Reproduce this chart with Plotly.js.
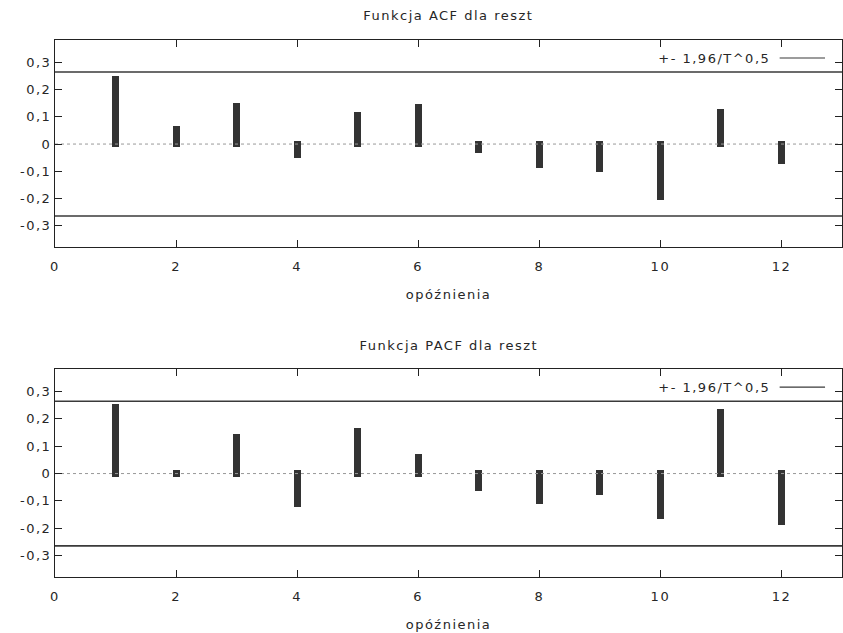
<!DOCTYPE html>
<html>
<head>
<meta charset="utf-8">
<script src="https://cdn.plot.ly/plotly-3.0.1.min.js"></script>
<style>
  html, body { margin: 0; padding: 0; background: #fff; }
  #chart { width: 843px; height: 633px; }
  /* wide, airy label lettering */
  #chart text { letter-spacing: 1.5px; }
</style>
</head>
<body>
<div id="chart"></div>
<script>
// Residual correlogram: ACF and PACF by lag
const lags = [1, 2, 3, 4, 5, 6, 7, 8, 9, 10, 11, 12];
const acfValues  = [0.251, 0.066, 0.152, -0.053, 0.117, 0.146, -0.033, -0.088, -0.102, -0.204, 0.128, -0.073];
const pacfValues = [0.254, 0.012, 0.146, -0.123, 0.167, 0.072, -0.062, -0.112, -0.077, -0.167, 0.236, -0.188];
const confBand = 0.2643;           // 1.96 / sqrt(T)
const xRange = [0, 13];
const xTickVals = [0, 2, 4, 6, 8, 10, 12];
const xTickText = ['0', '2', '4', '6', '8', '10', '12'];
const yTickVals = [-0.3, -0.2, -0.1, 0, 0.1, 0.2, 0.3];
const yTickText = ['-0,3', '-0,2', '-0,1', '0', '0,1', '0,2', '0,3'];
const titles = ['Funkcja ACF dla reszt', 'Funkcja PACF dla reszt'];
const xTitle = 'opóźnienia';
const bandLabel = '+- 1,96/T^0,5';

const FONT = 'DejaVu Sans, Verdana, sans-serif';
const FS = 13;
const TXT = '#262626';
const BAR = '#333333';
const tail = 0.012;   // impulse lines overshoot the baseline a little

function impulses(values, xa, ya) {
  const base = values.map(v => (v >= 0 ? -tail : tail));
  return {
    type: 'bar', x: lags, y: values.map((v, i) => v - base[i]), base: base,
    width: 0.115, marker: { color: BAR, line: { width: 0 } },
    xaxis: xa, yaxis: ya, showlegend: false, hoverinfo: 'skip'
  };
}
function hline(yv, xa, ya, style) {
  return {
    type: 'scatter', mode: 'lines', x: xRange, y: [yv, yv],
    line: style, xaxis: xa, yaxis: ya, showlegend: false, hoverinfo: 'skip', cliponaxis: false
  };
}
const bandStyle = { color: '#3a3a3a', width: 1.6 };
const zeroStyle = { color: '#999999', width: 1, dash: 'dot' };

const data = [
  hline(0, 'x', 'y', zeroStyle),
  impulses(acfValues, 'x', 'y'),
  hline(confBand, 'x', 'y', bandStyle),
  hline(-confBand, 'x', 'y', bandStyle),
  hline(0, 'x2', 'y2', zeroStyle),
  impulses(pacfValues, 'x2', 'y2'),
  hline(confBand, 'x2', 'y2', bandStyle),
  hline(-confBand, 'x2', 'y2', bandStyle)
];

function xAxis(domainAnchor) {
  return {
    anchor: domainAnchor, range: xRange, tickmode: 'array',
    tickvals: xTickVals, ticktext: xTickText,
    ticks: 'inside', ticklen: 7, tickwidth: 1, tickcolor: '#222',
    mirror: 'ticks', showline: true, linecolor: '#222', linewidth: 1,
    showgrid: false, zeroline: false, ticklabelstandoff: 7,
    tickfont: { family: FONT, size: FS, color: TXT },
    title: { text: xTitle, font: { family: FONT, size: FS, color: TXT }, standoff: 17 }
  };
}
function yAxis(domainAnchor, domain) {
  return {
    anchor: domainAnchor, domain: domain, range: [-0.378, 0.382], tickmode: 'array',
    tickvals: yTickVals, ticktext: yTickText,
    ticks: 'inside', ticklen: 7, tickwidth: 1, tickcolor: '#222',
    mirror: 'ticks', showline: true, linecolor: '#222', linewidth: 1,
    showgrid: false, zeroline: false,
    tickfont: { family: FONT, size: FS, color: TXT }
  };
}

const annotations = [];
const shapes = [];
[['y', 1.0, 25], ['y2', 0.3873, 24]].forEach(([ya, top, lift], i) => {
  annotations.push({
    text: titles[i], xref: 'paper', yref: 'paper', x: 0.5, y: top,
    yshift: lift, xanchor: 'center', yanchor: 'middle', showarrow: false,
    font: { family: FONT, size: FS, color: TXT }
  });
  // key for the confidence band
  annotations.push({
    text: bandLabel, xref: 'x' + (i ? '2' : ''), yref: 'paper', x: 11.70, y: top,
    yshift: -18, xanchor: 'right', yanchor: 'middle', showarrow: false,
    font: { family: FONT, size: FS, color: TXT }
  });
  shapes.push({
    type: 'line', xref: 'x' + (i ? '2' : ''), yref: ya + ' domain',
    x0: 11.97, x1: 12.72, y0: 0.913, y1: 0.913,
    line: { color: '#3a3a3a', width: 1.2 }
  });
});

const layout = {
  width: 843, height: 633,
  margin: { l: 55, r: 1, t: 40, b: 56 },
  paper_bgcolor: '#ffffff', plot_bgcolor: '#ffffff',
  font: { family: FONT, size: FS, color: TXT },
  showlegend: false, bargap: 0,
  xaxis: xAxis('y'),
  yaxis: yAxis('x', [0.6145, 1.0]),
  xaxis2: xAxis('y2'),
  yaxis2: yAxis('x2', [0, 0.3873]),
  annotations: annotations,
  shapes: shapes
};

Plotly.newPlot('chart', data, layout, { staticPlot: true, displayModeBar: false });
</script>
</body>
</html>
